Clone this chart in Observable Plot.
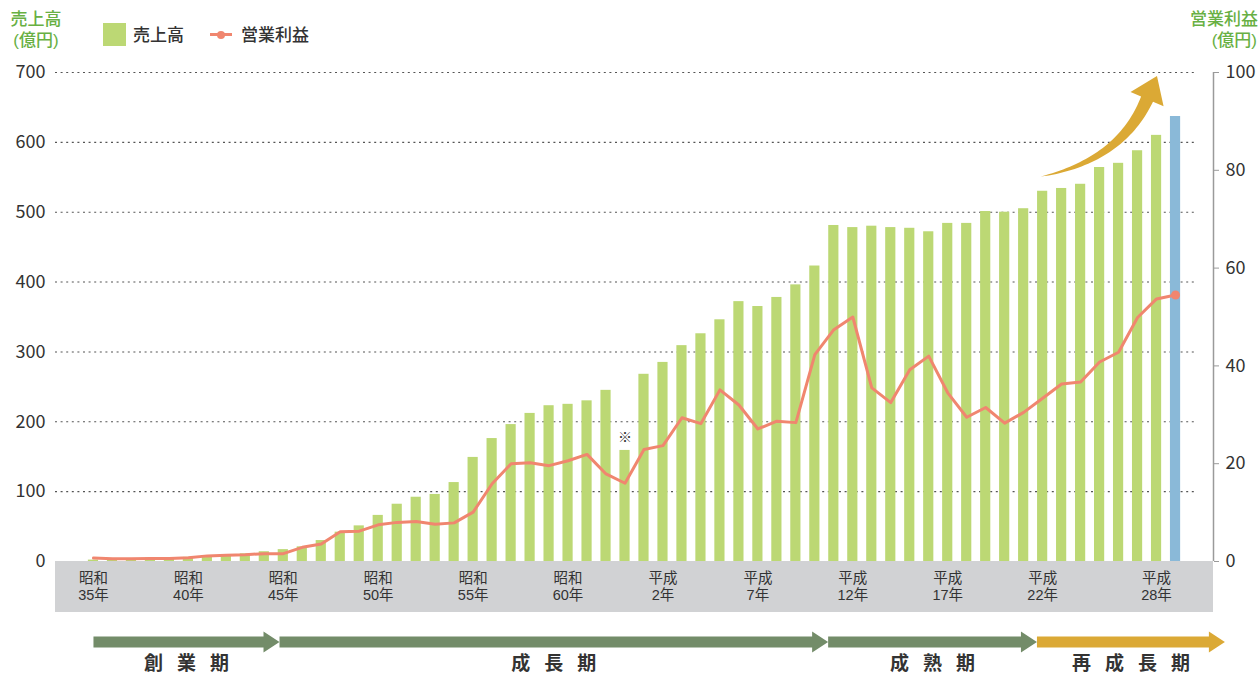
<!DOCTYPE html>
<html><head><meta charset="utf-8">
<script src="https://cdn.jsdelivr.net/npm/d3@7"></script>
<script src="https://cdn.jsdelivr.net/npm/@observablehq/plot@0.6"></script>
<style>
body{margin:0;background:#fff;font-family:'Noto Sans CJK JP','Noto Sans',sans-serif;}
#wrap{position:relative;width:1260px;height:676px;overflow:hidden;background:#fff}
.lbl{position:absolute;white-space:nowrap}
.ttl{position:absolute;white-space:nowrap;color:#68b043;font-size:17px;font-weight:500;line-height:21px;font-family:'Liberation Sans','Noto Sans CJK JP',sans-serif}
</style></head><body>
<div id="wrap"><div id="chart"></div>
<div class="ttl" style="left:8px;top:9px;width:56px;text-align:center">売上高</div>
<div class="ttl" style="left:8px;top:30px;width:56px;text-align:center">(億円)</div>
<div class="ttl" style="right:2px;top:9px;text-align:right">営業利益</div>
<div class="ttl" style="right:3px;top:30px;text-align:right">(億円)</div>
<div class="lbl" style="left:103px;top:23px;width:23px;height:23px;background:#bcd874"></div>
<div class="lbl" style="left:133px;top:23px;font-size:17px;line-height:22px;color:#333;font-weight:500">売上高</div>
<div class="lbl" style="left:210px;top:33px;width:22px;height:3px;background:#f0866f"></div>
<div class="lbl" style="left:217px;top:30.5px;width:8px;height:8px;border-radius:50%;background:#f0866f"></div>
<div class="lbl" style="left:241px;top:23px;font-size:17px;line-height:22px;color:#333;font-weight:500">営業利益</div>
</div>
<script>
// ---- data ----
const years = [1960,1961,1962,1963,1964,1965,1966,1967,1968,1969,
  1970,1971,1972,1973,1974,1975,1976,1977,1978,1979,
  1980,1981,1982,1983,1984,1985,1986,1987,1988,1989,
  1990,1991,1992,1993,1994,1995,1996,1997,1998,1999,
  2000,2001,2002,2003,2004,2005,2006,2007,2008,2009,
  2010,2011,2012,2013,2014,2015,2016,2017];
// 売上高 (億円)
const sales = [2,3,4,5,5,6,7,10,11,14,
  17,21,30,42,51,66,82,92,96,113,
  149,176,196,212,223,225,230,245,159,268,
  285,309,326,346,372,365,378,396,423,481,
  478,480,478,477,472,484,484,501,500,505,
  530,534,540,564,570,588,610,637];
// 営業利益 (億円)
const profit = [0.7,0.55,0.55,0.6,0.6,0.75,1.15,1.3,1.4,1.6,
  1.6,2.9,3.6,6.1,6.2,7.5,8.0,8.2,7.6,7.9,
  10.1,15.9,20.0,20.2,19.6,20.6,21.9,17.9,16.0,22.9,
  23.7,29.4,28.2,35.1,32.0,27.1,28.7,28.4,42.3,47.4,
  50.0,35.5,32.5,39.2,42.0,34.5,29.5,31.5,28.3,30.5,
  33.4,36.3,36.7,40.8,42.8,49.9,53.7,54.5];
const forecastYears = [2017];
const noteYears = [1988];
const tickYears = [1960,1965,1970,1975,1980,1985,1990,1995,2000,2005,2010,2016];
const tickEras = ["昭和","昭和","昭和","昭和","昭和","昭和","平成","平成","平成","平成","平成","平成"];
const tickNums = ["35年","40年","45年","50年","55年","60年","2年","7年","12年","17年","22年","28年"];
const salesTicks = [0,100,200,300,400,500,600,700];
const profitTicks = [0,20,40,60,80,100];
const periodNames = ["創業期","成長期","成熟期","再成長期"];
const periodBounds = [1960, 1969.8, 1998.7, 2009.7, 2019.6];

// ---- styles ----
const GREEN = "#bcd874", BLUE = "#8ab9d8", SALMON = "#f0866f";
const ARROW_GREEN = "#738c69", GOLD = "#dba935";
const W = 1260, H = 676, mL = 55, mR = 47, mT = 72, mB = 64;
const xDomain = [1958, 2019];
const yDomain = [-73, 700];
const gridEnd = 2018.05;
const ratio = salesTicks[salesTicks.length-1] / profitTicks[profitTicks.length-1];
const TICK_FONT = "'Liberation Sans','Noto Sans CJK JP',sans-serif";

const records = years.map((year, i) => ({year, sales: sales[i], profit: profit[i],
  forecast: forecastYears.includes(year)}));

const xs = Plot.scale({x: {domain: xDomain, range: [mL, W - mR]}});
const ys = Plot.scale({y: {domain: yDomain, range: [H - mB, mT]}});
const toData = ([px, py]) => ({x: xs.invert(px), y: ys.invert(py)});

// period arrows (pixel layout for vertical placement)
const shaftTop = 636, shaftBot = 647, headTop = 631, headBot = 652, headLen = 16;
function periodPoly(i) {
  const x0 = xs.apply(periodBounds[i]), x1 = xs.apply(periodBounds[i+1]);
  const mid = (shaftTop + shaftBot) / 2;
  return [[x0, shaftTop],[x1-headLen, shaftTop],[x1-headLen, headTop],[x1, mid],
          [x1-headLen, headBot],[x1-headLen, shaftBot],[x0, shaftBot]].map(toData);
}

// gold swoosh annotation anchored in data space
function swoosh() {
  const P0 = [xs.apply(2009.9), ys.apply(551)];
  const C  = [xs.apply(2014.1), ys.apply(574)];
  const P1 = [xs.apply(2015.5), ys.apply(662)];
  const N = 40, maxW = 13, headHW = 18, headL = 25;
  const left = [], right = [];
  for (let k = 0; k <= N; k++) {
    const t = k / N, mt = 1 - t;
    const bx = mt*mt*P0[0] + 2*mt*t*C[0] + t*t*P1[0];
    const by = mt*mt*P0[1] + 2*mt*t*C[1] + t*t*P1[1];
    const dx = 2*mt*(C[0]-P0[0]) + 2*t*(P1[0]-C[0]);
    const dy = 2*mt*(C[1]-P0[1]) + 2*t*(P1[1]-C[1]);
    const len = Math.hypot(dx, dy), nx = -dy/len, ny = dx/len;
    const w = maxW * Math.pow(t, 0.8) / 2;
    left.push([bx + nx*w, by + ny*w]);
    right.push([bx - nx*w, by - ny*w]);
  }
  const dx = P1[0]-C[0], dy = P1[1]-C[1], len = Math.hypot(dx, dy);
  const ux = dx/len, uy = dy/len, nx = -uy, ny = ux;
  const head = [[P1[0]+nx*headHW, P1[1]+ny*headHW],[P1[0]+ux*headL, P1[1]+uy*headL],
                [P1[0]-nx*headHW, P1[1]-ny*headHW]];
  return [...left, ...head, ...right.reverse()].map(toData);
}

const periods = periodNames.map((name, i) => ({name, mid: (periodBounds[i] + periodBounds[i+1]) / 2}));

const chart = Plot.plot({
  width: W, height: H, marginLeft: mL, marginRight: mR, marginTop: mT, marginBottom: mB,
  x: {domain: xDomain, axis: null},
  y: {domain: yDomain, axis: null},
  style: {fontFamily: "'Noto Sans CJK JP','Noto Sans',sans-serif", color: "#333", background: "white", overflow: "visible"},
  marks: [
    Plot.rect([0], {x1: xDomain[0], x2: xDomain[1], y1: yDomain[0], y2: 0, fill: "#d1d2d4"}),
    Plot.ruleY(salesTicks.filter(d => d > 0), {x1: xDomain[0], x2: gridEnd, stroke: "#555", strokeWidth: 1.1, strokeDasharray: "2,3.6"}),
    Plot.rectY(records.filter(d => !d.forecast), {x1: d => d.year - 0.5, x2: d => d.year + 0.5, y1: 0, y2: "sales", insetLeft: 4.4, insetRight: 4.4, fill: GREEN}),
    Plot.rectY(records.filter(d => d.forecast), {x1: d => d.year - 0.5, x2: d => d.year + 0.5, y1: 0, y2: "sales", insetLeft: 4.4, insetRight: 4.4, fill: BLUE}),
    Plot.line(records, {x: "year", y: d => d.profit * ratio, stroke: SALMON, strokeWidth: 3}),
    Plot.dot(records.filter(d => d.forecast), {x: "year", y: d => d.profit * ratio, r: 4.5, fill: SALMON}),
    Plot.text(records.filter(d => noteYears.includes(d.year)), {x: "year", y: "sales", text: () => "※", dy: -13, fontSize: 14, fill: "#333"}),
    Plot.axisY(salesTicks, {anchor: "left", tickSize: 0, tickPadding: 10, fontSize: 18, fill: "#333"}),
    Plot.ruleX([xDomain[1]], {y1: 0, y2: salesTicks[salesTicks.length-1], stroke: "#9a9a9a", strokeWidth: 1.5}),
    Plot.axisY(profitTicks.map(d => d * ratio), {anchor: "right", tickSize: 5, tickPadding: 7, fontSize: 18, stroke: "#9a9a9a", fill: "#333", tickFormat: d => String(Math.round(d / ratio))}),
    Plot.text(tickYears, {x: d => d, text: (d, i) => tickEras[i], frameAnchor: "bottom", dy: -30, fontSize: 14.5, fontFamily: TICK_FONT, fill: "#333"}),
    Plot.text(tickYears, {x: d => d, text: (d, i) => tickNums[i], frameAnchor: "bottom", dy: -13, fontSize: 14.5, fontFamily: TICK_FONT, fill: "#333"}),
    ...periodNames.map((n, i) => Plot.line(periodPoly(i), {x: "x", y: "y", fill: i === 3 ? GOLD : ARROW_GREEN, stroke: "none"})),
    Plot.text(periods, {x: "mid", text: "name", frameAnchor: "bottom", dy: 57, dx: 7, fontSize: 19, fontWeight: "bold", fill: "#333"}),
    Plot.line(swoosh(), {x: "x", y: "y", fill: GOLD, stroke: "none"})
  ]
});
chart.querySelectorAll("text").forEach(t => {
  if (periodNames.includes(t.textContent)) t.setAttribute("letter-spacing", "14px");
});
document.getElementById("chart").appendChild(chart);
</script></body></html>
